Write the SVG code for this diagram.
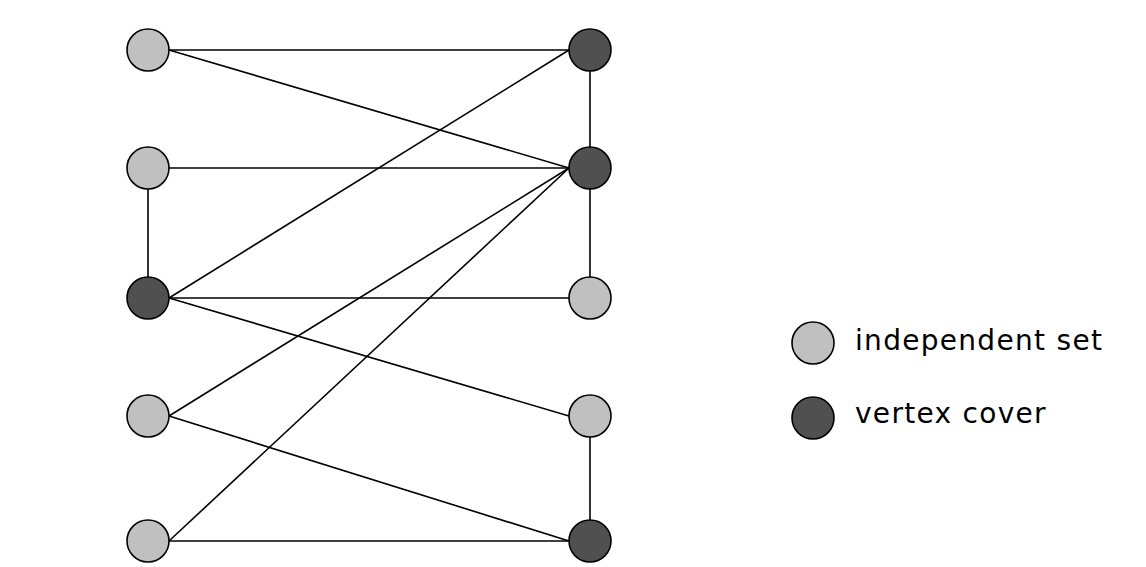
<svg xmlns="http://www.w3.org/2000/svg" width="1146" height="567" viewBox="0 0 1146 567">
<style>
.e{stroke:#000;stroke-width:1.6;fill:none}
.is{fill:#c0c0c0;stroke:#000;stroke-width:1.6}
.vc{fill:#505050;stroke:#000;stroke-width:1.6}
.t{font-family:"DejaVu Sans",sans-serif;font-size:28px;letter-spacing:1.3px;fill:#000}
</style>
<rect width="1146" height="567" fill="#fff"/>
<g id="connectors">
<line class="e" x1="169" y1="50" x2="569" y2="50"/>
<line class="e" x1="169" y1="50" x2="569" y2="168"/>
<line class="e" x1="169" y1="168" x2="569" y2="168"/>
<line class="e" x1="148" y1="189" x2="148" y2="277"/>
<line class="e" x1="169" y1="298" x2="569" y2="50"/>
<line class="e" x1="169" y1="298" x2="569" y2="298"/>
<line class="e" x1="169" y1="298" x2="569" y2="416"/>
<line class="e" x1="169" y1="416" x2="569" y2="168"/>
<line class="e" x1="169" y1="416" x2="569" y2="541"/>
<line class="e" x1="169" y1="541" x2="569" y2="168"/>
<line class="e" x1="169" y1="541" x2="569" y2="541"/>
<line class="e" x1="590" y1="71" x2="590" y2="147"/>
<line class="e" x1="590" y1="189" x2="590" y2="277"/>
<line class="e" x1="590" y1="437" x2="590" y2="520"/>
</g>
<g id="L1"><circle class="is" cx="148" cy="50" r="21"/></g>
<g id="L2"><circle class="is" cx="148" cy="168" r="21"/></g>
<g id="L3"><circle class="vc" cx="148" cy="298" r="21"/></g>
<g id="L4"><circle class="is" cx="148" cy="416" r="21"/></g>
<g id="L5"><circle class="is" cx="148" cy="541" r="21"/></g>
<g id="R1"><circle class="vc" cx="590" cy="50" r="21"/></g>
<g id="R2"><circle class="vc" cx="590" cy="168" r="21"/></g>
<g id="R3"><circle class="is" cx="590" cy="298" r="21"/></g>
<g id="R4"><circle class="is" cx="590" cy="416" r="21"/></g>
<g id="R5"><circle class="vc" cx="590" cy="541" r="21"/></g>
<g id="legend-is">
<circle class="is" cx="813" cy="343" r="21"/>
<text class="t" x="855" y="350">independent set</text>
</g>
<g id="legend-vc">
<circle class="vc" cx="813" cy="418" r="21"/>
<text class="t" x="855" y="423">vertex cover</text>
</g>
</svg>
